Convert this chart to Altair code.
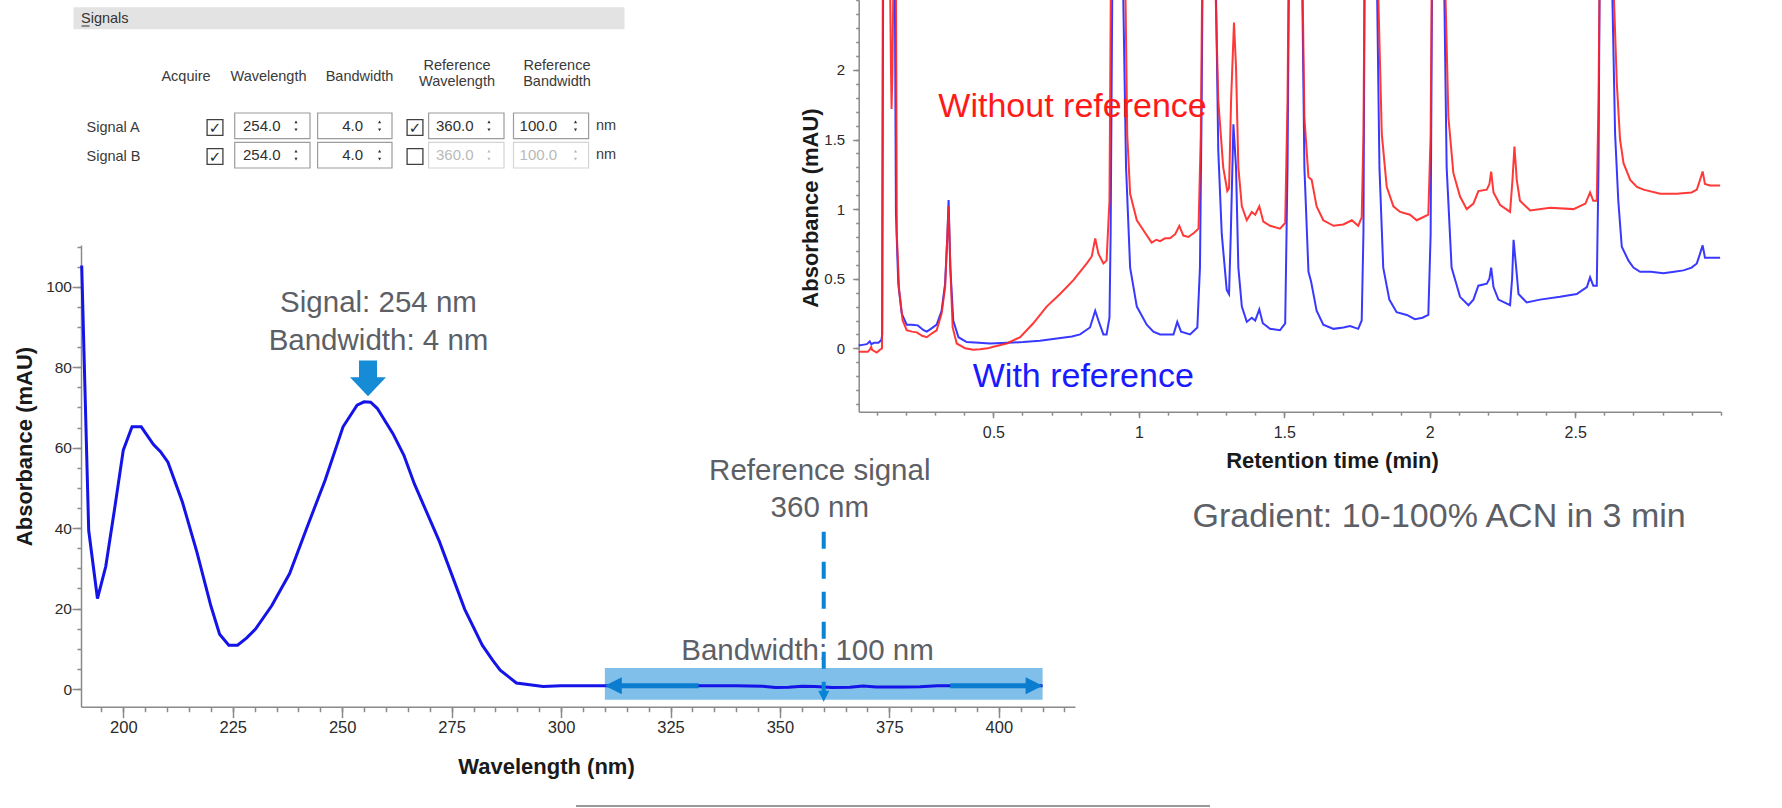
import altair as alt
import pandas as pd

W, H = 1782, 808
FONT = "Liberation Sans"

# ------------------------------------------------------------------ data
# Instrument "Signals" settings panel
PANEL_ROWS = ["Signal A", "Signal B"]
PANEL_HEADERS = ["Acquire", "Wavelength", "Bandwidth", "Reference\nWavelength", "Reference\nBandwidth"]
ACQUIRE = [True, True]
WAVELENGTH = [254.0, 254.0]
BANDWIDTH = [4.0, 4.0]
USE_REFERENCE = [True, False]
REF_WAVELENGTH = [360.0, 360.0]
REF_BANDWIDTH = [100.0, 100.0]
UNIT = "nm"

# UV spectrum (wavelength nm / absorbance mAU)
SPEC_WL = [190.5, 192.1, 194.1, 196.0, 198.0, 200.0, 202.0, 204.1, 206.9, 208.5, 210.2,
           213.5, 216.8, 220.0, 222.0, 224.1, 226.1, 228.2, 230.2, 233.9, 238.0,
           242.0, 246.1, 250.2, 253.4, 255.0, 256.5, 258.0, 259.1, 261.6, 264.1, 266.5, 272.2, 278.0,
           282.0, 284.4, 286.1, 289.8, 295.9, 300, 310, 320, 330, 340, 346, 349, 352,
           355, 358, 362, 366, 369, 372, 378, 382, 386, 395, 410]
SPEC_ABS = [105.3, 39.4, 22.5, 30.5, 44.7, 59.4, 65.2, 65.2, 60.8, 59.0, 56.4,
            46.5, 34.1, 20.7, 13.6, 10.9, 10.9, 12.7, 14.9, 20.7, 28.7,
            40.3, 51.9, 65.2, 70.6, 71.4, 71.3, 69.8, 67.9, 63.5, 58.1, 51.0, 36.7, 19.8,
            10.9, 7.1, 4.7, 1.5, 0.6, 0.8, 0.8, 0.8, 0.8, 0.8, 0.7, 0.4, 0.45,
            0.7, 0.6, 0.4, 0.45, 0.75, 0.5, 0.5, 0.55, 0.8, 0.8, 0.8]

SIGNAL_WL, SIGNAL_BW = 254, 4
REF_WL, REF_BW = 360, 100

# Chromatograms (retention time min, absorbance mAU)
CHROM_WITH_REF = [
    (0.037, 0.02), (0.05, 0.025), (0.065, 0.03), (0.075, 0.05), (0.08, 0.03), (0.09, 0.04),
    (0.105, 0.04), (0.115, 0.06), (0.118, 0.1), (0.121, 2.7), (0.14, 3.2), (0.161, 2.7),
    (0.165, 0.97), (0.173, 0.465), (0.185, 0.25), (0.202, 0.17), (0.22, 0.17), (0.24, 0.165),
    (0.26, 0.13), (0.271, 0.12), (0.285, 0.14), (0.305, 0.17), (0.322, 0.27), (0.334, 0.465),
    (0.342, 0.82), (0.346, 1.065), (0.352, 0.58), (0.362, 0.2), (0.38, 0.08), (0.408, 0.045),
    (0.45, 0.04), (0.488, 0.035), (0.55, 0.04), (0.602, 0.045), (0.66, 0.055), (0.718, 0.07),
    (0.77, 0.085), (0.798, 0.1), (0.832, 0.15), (0.85, 0.27), (0.861, 0.2), (0.878, 0.1),
    (0.889, 0.1), (0.899, 0.22), (0.903, 0.82), (0.909, 2.7), (0.93, 3.2), (0.945, 2.7),
    (0.956, 1.3), (0.970, 0.58), (0.993, 0.30), (1.027, 0.17), (1.05, 0.12), (1.073, 0.1),
    (1.10, 0.1), (1.119, 0.1), (1.132, 0.19), (1.145, 0.12), (1.176, 0.1), (1.201, 0.15),
    (1.210, 0.58), (1.216, 1.78), (1.219, 2.7), (1.24, 3.2), (1.264, 2.7), (1.273, 1.42),
    (1.285, 0.82), (1.302, 0.42), (1.310, 0.39), (1.316, 0.82), (1.325, 1.61), (1.334, 1.3),
    (1.342, 0.58), (1.354, 0.3), (1.371, 0.19), (1.388, 0.22), (1.40, 0.2), (1.414, 0.28),
    (1.426, 0.18), (1.451, 0.14), (1.485, 0.13), (1.503, 0.18), (1.511, 1.3), (1.516, 2.7),
    (1.54, 3.2), (1.561, 2.7), (1.569, 1.3), (1.583, 0.55), (1.592, 0.48), (1.611, 0.27),
    (1.634, 0.17), (1.669, 0.14), (1.703, 0.15), (1.726, 0.16), (1.754, 0.14), (1.766, 0.2),
    (1.772, 0.83), (1.776, 2.7), (1.80, 3.2), (1.818, 2.7), (1.827, 1.3), (1.840, 0.58),
    (1.861, 0.35), (1.886, 0.26), (1.921, 0.24), (1.949, 0.21), (1.975, 0.22), (1.995, 0.24),
    (2.003, 0.82), (2.008, 2.7), (2.03, 3.2), (2.049, 2.7), (2.058, 1.3), (2.075, 0.58),
    (2.104, 0.37), (2.133, 0.31), (2.150, 0.35), (2.167, 0.45), (2.196, 0.465), (2.205, 0.5),
    (2.211, 0.58), (2.219, 0.44), (2.236, 0.35), (2.276, 0.31), (2.283, 0.5), (2.288, 0.78),
    (2.297, 0.58), (2.305, 0.39), (2.333, 0.33), (2.379, 0.35), (2.448, 0.37), (2.505, 0.39),
    (2.540, 0.44), (2.551, 0.51), (2.562, 0.45), (2.574, 0.45), (2.580, 1.3), (2.584, 2.7),
    (2.605, 3.2), (2.626, 2.7), (2.637, 1.54), (2.648, 1.06), (2.660, 0.73), (2.683, 0.63),
    (2.700, 0.58), (2.723, 0.55), (2.76, 0.55), (2.803, 0.54), (2.84, 0.55), (2.872, 0.56),
    (2.90, 0.58), (2.918, 0.61), (2.929, 0.68), (2.938, 0.74), (2.946, 0.65), (2.963, 0.65),
    (2.998, 0.65),
]
CHROM_WITHOUT_REF = [
    (0.037, -0.025), (0.06, -0.025), (0.068, -0.025), (0.075, -0.01), (0.08, 0.01), (0.083, -0.01),
    (0.099, -0.03), (0.11, -0.01), (0.117, 0.0), (0.12, 2.7), (0.135, 3.2), (0.145, 2.6),
    (0.148, 2.0), (0.150, 1.72), (0.153, 2.0), (0.156, 2.6), (0.160, 3.2), (0.165, 2.7),
    (0.168, 0.82), (0.176, 0.42), (0.188, 0.2), (0.202, 0.13), (0.22, 0.12), (0.237, 0.115),
    (0.255, 0.09), (0.271, 0.08), (0.29, 0.11), (0.305, 0.13), (0.322, 0.25), (0.334, 0.44),
    (0.342, 0.82), (0.346, 1.02), (0.352, 0.58), (0.360, 0.15), (0.374, 0.035), (0.403, 0.0),
    (0.43, -0.01), (0.454, -0.007), (0.48, 0.0), (0.500, 0.012), (0.546, 0.035), (0.592, 0.08),
    (0.637, 0.18), (0.683, 0.3), (0.729, 0.39), (0.775, 0.49), (0.821, 0.61), (0.838, 0.66),
    (0.850, 0.79), (0.861, 0.68), (0.878, 0.61), (0.889, 0.63), (0.899, 1.06), (0.904, 2.7),
    (0.93, 3.2), (0.953, 2.7), (0.960, 1.54), (0.970, 1.11), (0.993, 0.92), (1.015, 0.85),
    (1.044, 0.76), (1.06, 0.78), (1.073, 0.77), (1.09, 0.79), (1.107, 0.79), (1.125, 0.82),
    (1.139, 0.88), (1.153, 0.81), (1.170, 0.80), (1.19, 0.83), (1.205, 0.86), (1.213, 1.54),
    (1.218, 2.7), (1.24, 3.2), (1.262, 2.7), (1.273, 1.78), (1.290, 1.3), (1.304, 1.13),
    (1.310, 1.15), (1.317, 1.78), (1.327, 2.34), (1.334, 2.02), (1.342, 1.3), (1.354, 1.02),
    (1.371, 0.92), (1.388, 0.98), (1.40, 0.96), (1.414, 1.02), (1.428, 0.91), (1.451, 0.88),
    (1.485, 0.86), (1.503, 0.90), (1.511, 1.78), (1.515, 2.7), (1.54, 3.2), (1.562, 2.7),
    (1.569, 1.66), (1.583, 1.23), (1.594, 1.21), (1.611, 1.02), (1.634, 0.92), (1.669, 0.88),
    (1.703, 0.89), (1.732, 0.92), (1.754, 0.88), (1.766, 0.94), (1.772, 1.54), (1.776, 2.7),
    (1.80, 3.2), (1.821, 2.7), (1.835, 1.54), (1.852, 1.16), (1.875, 1.02), (1.898, 0.98),
    (1.932, 0.96), (1.955, 0.92), (1.975, 0.94), (1.995, 0.96), (2.003, 1.54), (2.007, 2.7),
    (2.03, 3.2), (2.052, 2.7), (2.064, 1.66), (2.081, 1.26), (2.104, 1.09), (2.127, 1.0),
    (2.150, 1.04), (2.167, 1.13), (2.196, 1.14), (2.205, 1.18), (2.211, 1.27), (2.219, 1.12),
    (2.242, 1.03), (2.276, 0.98), (2.284, 1.2), (2.291, 1.45), (2.299, 1.21), (2.310, 1.06),
    (2.345, 0.99), (2.414, 1.01), (2.494, 1.0), (2.535, 1.04), (2.551, 1.12), (2.562, 1.06),
    (2.574, 1.06), (2.580, 1.78), (2.584, 2.7), (2.605, 3.2), (2.630, 2.7), (2.643, 1.9),
    (2.654, 1.5), (2.666, 1.33), (2.689, 1.21), (2.712, 1.16), (2.735, 1.14), (2.792, 1.11),
    (2.849, 1.11), (2.90, 1.12), (2.918, 1.14), (2.929, 1.21), (2.938, 1.27), (2.946, 1.18),
    (2.963, 1.17), (2.998, 1.17),
]

# axis ticks
SPEC_X_TICKS = [200, 225, 250, 275, 300, 325, 350, 375, 400]
SPEC_X_MINOR = list(range(195, 416, 5))
SPEC_Y_TICKS = [0, 20, 40, 60, 80, 100]
SPEC_Y_MINOR = list(range(0, 111, 5))
CHROM_X_TICKS = [0.5, 1, 1.5, 2, 2.5]
CHROM_X_MINOR = [round(0.1 * i, 1) for i in range(1, 31)]
CHROM_Y_TICKS = [0, 0.5, 1, 1.5, 2]
CHROM_Y_MINOR = [round(0.1 * i, 1) for i in range(-4, 26)]

# ------------------------------------------------------------------ layout (pixels)
SP_X_DOM, SP_X_RNG = [190.34, 417.4], [81, 1075]
SP_Y_DOM, SP_Y_RNG = [-4.4, 110.4], [706.7, 245]
CH_X_DOM, CH_X_RNG = [0.037, 3.0], [858.7, 1720.7]
CH_Y_DOM, CH_Y_RNG = [-0.455, 2.502], [411.7, 0]

GRAY_TXT = "#5c6066"
AX = dict(grid=False, domainColor="#8a8a8a", tickColor="#8a8a8a", domainWidth=1.5,
          tickWidth=1.5, labelColor="#2b2b2b", labelFont=FONT, titleFont=FONT,
          titleColor="#1a1a1a", titleFontWeight="bold", titleFontSize=22, labelFlush=False,
          labelOverlap=False)


def scale(dom, rng):
    return alt.Scale(domain=dom, range=rng, nice=False, zero=False)


def sx(f, axis=None):
    return alt.X(f, type="quantitative", scale=scale(SP_X_DOM, SP_X_RNG), axis=axis)


def sy(f, axis=None):
    return alt.Y(f, type="quantitative", scale=scale(SP_Y_DOM, SP_Y_RNG), axis=axis)


def cx(f, axis=None):
    return alt.X(f, type="quantitative", scale=scale(CH_X_DOM, CH_X_RNG), axis=axis)


def cy(f, axis=None):
    return alt.Y(f, type="quantitative", scale=scale(CH_Y_DOM, CH_Y_RNG), axis=axis)


def px(f):
    return alt.X(f, type="quantitative", scale=scale([0, W], [0, W]), axis=None)


def py(f):
    return alt.Y(f, type="quantitative", scale=scale([0, H], [0, H]), axis=None)


layers = []

# ------------------------------------------------------------------ settings panel
P_BAR = (73.5, 624.5, 7.3, 29.3)
P_HEAD_X = [186, 268.5, 359.5, 457, 557]
P_HEAD_Y1, P_HEAD_Y2 = 77.3, (65.7, 82.3)
P_ROW_Y = [127.5, 156.5]
P_BOX_Y = [125.8, 155.2]
P_BOX_H = 12.8
P_LABEL_X = 86.5
P_CHECK_X = (215, 415)
P_BOX = [  # x1, x2, align, text x, spinner x
    (234.7, 310, "left", 243, 296),
    (317.6, 392, "right", 363, 379.6),
    (428.6, 504, "left", 436, 489),
    (513.5, 588.6, "left", 519.6, 575.5),
]
P_UNIT_X = 606

layers.append(alt.Chart(pd.DataFrame({"x1": [P_BAR[0]], "x2": [P_BAR[1]], "y1": [P_BAR[2]], "y2": [P_BAR[3]]}))
              .mark_rect(color="#e3e3e3").encode(x=px("x1"), x2="x2", y=py("y1"), y2="y2"))
layers.append(alt.Chart(pd.DataFrame({"x": [81], "y": [18.5], "t": ["Signals"]}))
              .mark_text(align="left", baseline="middle", font=FONT, fontSize=14.5, color="#333333")
              .encode(x=px("x"), y=py("y"), text="t:N"))
layers.append(alt.Chart(pd.DataFrame({"x1": [81.5], "x2": [89.5], "y": [26]}))
              .mark_rule(color="#333333", strokeWidth=1).encode(x=px("x1"), x2="x2", y=py("y")))

head_rows = []
for h, x in zip(PANEL_HEADERS, P_HEAD_X):
    parts = h.split("\n")
    ys = [P_HEAD_Y1] if len(parts) == 1 else list(P_HEAD_Y2)
    for p, y in zip(parts, ys):
        head_rows.append({"x": x, "y": y, "t": p})
layers.append(alt.Chart(pd.DataFrame(head_rows))
              .mark_text(align="center", baseline="middle", font=FONT, fontSize=14.5, color="#3a3a3a")
              .encode(x=px("x"), y=py("y"), text="t:N"))
layers.append(alt.Chart(pd.DataFrame({"x": [P_LABEL_X] * 2, "y": P_ROW_Y, "t": PANEL_ROWS}))
              .mark_text(align="left", baseline="middle", font=FONT, fontSize=14.5, color="#3a3a3a")
              .encode(x=px("x"), y=py("y"), text="t:N"))

# checkboxes
cb = []
for r in range(len(PANEL_ROWS)):
    cb.append({"x": P_CHECK_X[0], "y": P_ROW_Y[r], "on": ACQUIRE[r]})
    cb.append({"x": P_CHECK_X[1], "y": P_ROW_Y[r], "on": USE_REFERENCE[r]})
cb_df = pd.DataFrame(cb)
layers.append(alt.Chart(cb_df).mark_square(size=250, filled=True, fill="white", stroke="#404040",
                                           strokeWidth=1.3, opacity=1)
              .encode(x=px("x"), y=py("y")))
layers.append(alt.Chart(cb_df[cb_df["on"]]).mark_text(text="\u2713", font="DejaVu Sans", fontSize=15,
                                                      color="#2a2a2a", baseline="middle", align="center")
              .encode(x=px("x"), y=py("y")))

# input boxes
boxes, texts_l, texts_r, spins = [], [], [], []
for r in range(len(PANEL_ROWS)):
    vals = [WAVELENGTH[r], BANDWIDTH[r], REF_WAVELENGTH[r], REF_BANDWIDTH[r]]
    enabled = [True, True, USE_REFERENCE[r], USE_REFERENCE[r]]
    for (x1, x2, al, tx, sxp), v, en in zip(P_BOX, vals, enabled):
        boxes.append({"x1": x1, "x2": x2, "y1": P_BOX_Y[r] - P_BOX_H, "y2": P_BOX_Y[r] + P_BOX_H, "en": en})
        (texts_l if al == "left" else texts_r).append({"x": tx, "y": P_BOX_Y[r], "t": f"{v:.1f}", "en": en})
        spins.append({"x": sxp, "yu": P_BOX_Y[r] - 4, "yd": P_BOX_Y[r] + 4, "en": en})
boxes, texts_l, texts_r, spins = map(pd.DataFrame, (boxes, texts_l, texts_r, spins))
for en, stroke, tcol in [(True, "#9c9c9c", "#303030"), (False, "#d4d4d4", "#b9b9b9")]:
    layers.append(alt.Chart(boxes[boxes["en"] == en]).mark_rect(fill="white", stroke=stroke, strokeWidth=1.2)
                  .encode(x=px("x1"), x2="x2", y=py("y1"), y2="y2"))
    for df, al in [(texts_l, "left"), (texts_r, "right")]:
        sub = df[df["en"] == en]
        if len(sub):
            layers.append(alt.Chart(sub).mark_text(align=al, baseline="middle", font=FONT, fontSize=15,
                                                   color=tcol)
                          .encode(x=px("x"), y=py("y"), text="t:N"))
    sp = spins[spins["en"] == en]
    layers.append(alt.Chart(sp).mark_point(shape="triangle-up", size=10, filled=True, color=tcol, opacity=1)
                  .encode(x=px("x"), y=py("yu")))
    layers.append(alt.Chart(sp).mark_point(shape="triangle-down", size=10, filled=True, color=tcol, opacity=1)
                  .encode(x=px("x"), y=py("yd")))
layers.append(alt.Chart(pd.DataFrame({"x": [P_UNIT_X] * 2, "y": P_BOX_Y, "t": [UNIT] * 2}))
              .mark_text(align="center", baseline="middle", font=FONT, fontSize=14.5, color="#3a3a3a")
              .encode(x=px("x"), y=py("y"), text="t:N"))

# ------------------------------------------------------------------ UV spectrum
BAND_Y = (-2.7, 5.25)
ARROW_Y = 0.82
ARROW_GAP = (331.4, 388.9)
REF_COLOR, BAND_COLOR, ARROW_COLOR = "#0a85d6", "#7fbfe9", "#0a7dd0"

lo, hi = REF_WL - REF_BW / 2, REF_WL + REF_BW / 2
layers.append(
    alt.Chart(pd.DataFrame({"x1": [lo], "x2": [hi], "y1": [BAND_Y[0]], "y2": [BAND_Y[1]]}))
    .mark_rect(color=BAND_COLOR, opacity=1)
    .encode(
        x=sx("x1", alt.Axis(orient="bottom", offset=SP_Y_RNG[0] - H, values=SPEC_X_MINOR, labels=False,
                            tickSize=5, domain=False, title="", **AX)),
        x2="x2",
        y=sy("y1", alt.Axis(orient="left", offset=-SP_X_RNG[0], values=SPEC_Y_MINOR, labels=False,
                            tickSize=4, domain=False, title="", **AX)),
        y2="y2",
    )
)
layers.append(
    alt.Chart(pd.DataFrame({"wl": SPEC_WL, "a": SPEC_ABS}))
    .mark_line(color="#1414e8", strokeWidth=3)
    .encode(
        x=sx("wl", alt.Axis(orient="bottom", offset=SP_Y_RNG[0] - H, values=SPEC_X_TICKS, format="d",
                            tickSize=11, labelPadding=2, labelFontSize=16.5, title="Wavelength (nm)",
                            titleX=546, titleY=67, titleBaseline="alphabetic", titleAlign="center", **AX)),
        y=sy("a", alt.Axis(orient="left", offset=-SP_X_RNG[0], values=SPEC_Y_TICKS, format="d",
                           tickSize=9, labelPadding=0.5, labelFontSize=15.5, title="Absorbance (mAU)",
                           titleAngle=270, titleX=-49.5, titleY=446, titleBaseline="alphabetic",
                           titleAlign="center", **AX)),
        order="wl:Q",
    )
)
# double arrow for the reference bandwidth
seg = pd.DataFrame({"x1": [lo + 2, ARROW_GAP[1]], "x2": [ARROW_GAP[0], hi - 2], "y": [ARROW_Y, ARROW_Y]})
layers.append(alt.Chart(seg).mark_rule(color=ARROW_COLOR, strokeWidth=5)
              .encode(x=sx("x1"), x2="x2", y=sy("y")))
layers.append(alt.Chart(pd.DataFrame({"x": [lo], "y": [ARROW_Y]}))
              .mark_point(shape="M0,0 L2,-1 L2,1 Z", size=289, filled=True, color=ARROW_COLOR, opacity=1)
              .encode(x=sx("x"), y=sy("y")))
layers.append(alt.Chart(pd.DataFrame({"x": [hi], "y": [ARROW_Y]}))
              .mark_point(shape="M0,0 L-2,-1 L-2,1 Z", size=289, filled=True, color=ARROW_COLOR, opacity=1)
              .encode(x=sx("x"), y=sy("y")))

# spectrum annotations
spec_notes = pd.DataFrame({
    "x": [258.3, 258.3, 359.1, 359.1, 356.3],
    "y": [93.7, 84.4, 52.0, 42.7, 7.2],
    "t": [f"Signal: {SIGNAL_WL} nm", f"Bandwidth: {SIGNAL_BW} nm", "Reference signal", f"{REF_WL} nm",
          f"Bandwidth: {REF_BW} nm"],
})
layers.append(alt.Chart(spec_notes).mark_text(align="center", baseline="alphabetic", font=FONT,
                                              fontSize=29.5, color=GRAY_TXT)
              .encode(x=sx("x"), y=sy("y"), text="t:N"))

# dashed reference marker
layers.append(alt.Chart(pd.DataFrame({"x": [REF_WL], "y1": [39.1], "y2": [-0.6]}))
              .mark_rule(color=REF_COLOR, strokeWidth=4, strokeDash=[17, 13])
              .encode(x=sx("x"), y=sy("y1"), y2="y2"))
layers.append(alt.Chart(pd.DataFrame({"x": [REF_WL], "y": [-3.2]}))
              .mark_point(shape="M0,0 L-1.1,-2.2 L1.1,-2.2 Z", size=100, filled=True, color=REF_COLOR,
                          opacity=1)
              .encode(x=sx("x"), y=sy("y")))
# block arrow over the signal maximum
layers.append(alt.Chart(pd.DataFrame({"x": [255.9], "y": [72.8]}))
              .mark_point(shape="M-0.5,-1.98 L0.5,-1.98 L0.5,-1.06 L1,-1.06 L0,0 L-1,-1.06 L-0.5,-1.06 Z",
                          size=1296, filled=True, color="#168bd6", opacity=1)
              .encode(x=sx("x"), y=sy("y")))

# ------------------------------------------------------------------ chromatograms
ref_df = pd.DataFrame(CHROM_WITH_REF, columns=["t", "a"])
noref_df = pd.DataFrame(CHROM_WITHOUT_REF, columns=["t", "a"])
layers.append(
    alt.Chart(ref_df).mark_line(color="#2222ff", strokeWidth=2, clip=True, opacity=0.9)
    .encode(
        x=cx("t", alt.Axis(orient="bottom", offset=CH_Y_RNG[0] - H, values=CHROM_X_MINOR, labels=False,
                           tickSize=3.5, domain=False, title="", **AX)),
        y=cy("a", alt.Axis(orient="left", offset=-CH_X_RNG[0], values=CHROM_Y_MINOR, labels=False,
                           tickSize=3, domain=False, title="", **AX)),
        order="t:Q",
    )
)
layers.append(
    alt.Chart(noref_df).mark_line(color="#ff2222", strokeWidth=2, clip=True, opacity=0.9)
    .encode(
        x=cx("t", alt.Axis(orient="bottom", offset=CH_Y_RNG[0] - H, values=CHROM_X_TICKS, format="~g",
                           tickSize=6, labelPadding=7, labelFontSize=16, title="Retention time (min)",
                           titleX=1332, titleY=55.5, titleBaseline="alphabetic", titleAlign="center", **AX)),
        y=cy("a", alt.Axis(orient="left", offset=-CH_X_RNG[0], values=CHROM_Y_TICKS, format="~g",
                           tickSize=6, labelPadding=8, labelFontSize=15, title="Absorbance (mAU)",
                           titleAngle=270, titleX=-41.7, titleY=207.5, titleBaseline="alphabetic",
                           titleAlign="center", **AX)),
        order="t:Q",
    )
)
for x, y, t, col in [(0.772, 1.664, "Without reference", "#ff1a1a"),
                     (0.809, -0.276, "With reference", "#1a1aff"),
                     (2.032, -1.284, "Gradient: 10-100% ACN in 3 min", GRAY_TXT)]:
    layers.append(alt.Chart(pd.DataFrame({"x": [x], "y": [y], "t": [t]}))
                  .mark_text(align="center", baseline="alphabetic", font=FONT, fontSize=34, color=col)
                  .encode(x=cx("x"), y=cy("y"), text="t:N"))

# separator line at the bottom
layers.append(alt.Chart(pd.DataFrame({"x1": [576], "x2": [1210], "y": [806]}))
              .mark_rule(color="#333333", strokeWidth=1).encode(x=px("x1"), x2="x2", y=py("y")))

chart = (
    alt.layer(*layers)
    .resolve_scale(x="independent", y="independent")
    .properties(width=W, height=H, padding=0, autosize=alt.AutoSizeParams(type="none"),
                background="white")
    .configure_view(stroke=None)
)
chart.save("out.html", embed_options={"renderer": "svg", "actions": False})
